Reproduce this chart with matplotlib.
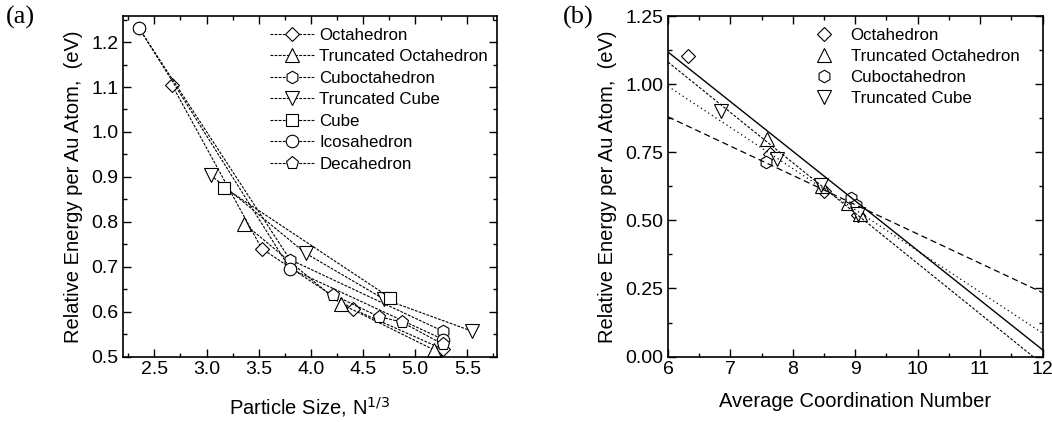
import matplotlib.pyplot as plt
from matplotlib.ticker import MultipleLocator

plt.rcParams['font.family'] = ['Liberation Sans', 'DejaVu Sans']

# panel (a): particle size N^(1/3) vs relative energy (eV)
octa_x = [2.67, 3.53, 4.40, 5.27]
octa_y = [1.104, 0.740, 0.606, 0.516]
trunc_octa_x = [3.36, 4.29, 5.18]
trunc_octa_y = [0.796, 0.617, 0.515]
cubocta_x = [2.35, 3.80, 5.27]
cubocta_y = [1.232, 0.716, 0.556]
trunc_cube_x = [3.04, 3.95, 4.70, 5.54]
trunc_cube_y = [0.904, 0.730, 0.628, 0.557]
cube_x = [3.17, 4.76]
cube_y = [0.876, 0.631]
icosa_x = [2.35, 3.80, 5.27]
icosa_y = [1.232, 0.696, 0.538]
deca_x = [4.21, 4.65, 4.87, 5.27]
deca_y = [0.638, 0.589, 0.577, 0.527]

# panel (b): average coordination number vs relative energy (eV)
b_octa_x = [6.32, 7.64, 8.50, 9.05]
b_octa_y = [1.102, 0.742, 0.607, 0.518]
b_trunc_octa_x = [7.58, 8.47, 8.88, 9.08]
b_trunc_octa_y = [0.797, 0.625, 0.562, 0.524]
b_cubocta_x = [7.57, 8.93, 9.01]
b_cubocta_y = [0.715, 0.581, 0.556]
b_trunc_cube_x = [6.85, 7.75, 8.45, 9.05]
b_trunc_cube_y = [0.900, 0.727, 0.628, 0.525]

# linear fits, value at x = 6 and x = 12
fit_x = [6, 12]
fit_solid = [1.118, 0.025]
fit_densedash = [1.081, -0.028]
fit_dotted = [0.992, 0.086]
fit_dashed = [0.880, 0.235]


def style_axes(ax):
    ax.tick_params(which='both', direction='in', top=True, right=True,
                   labelsize=14, width=1)
    ax.tick_params(which='major', length=6)
    ax.tick_params(which='minor', length=3)
    for s in ax.spines.values():
        s.set_linewidth(1.2)


def main():
    fig = plt.figure(figsize=(10.52, 4.22), dpi=100)
    ax1 = fig.add_axes([0.117, 0.155, 0.355, 0.807])
    ax2 = fig.add_axes([0.635, 0.155, 0.356, 0.807])

    mk = dict(markerfacecolor='white', markeredgecolor='black',
              markeredgewidth=0.8, color='black', lw=0.8,
              dashes=(2.5, 1.2))
    series = [
        (octa_x, octa_y, 'D', 7, 'Octahedron'),
        (trunc_octa_x, trunc_octa_y, '^', 9.5, 'Truncated Octahedron'),
        (cubocta_x, cubocta_y, 'h', 9, 'Cuboctahedron'),
        (trunc_cube_x, trunc_cube_y, 'v', 9.5, 'Truncated Cube'),
        (cube_x, cube_y, 's', 8, 'Cube'),
        (icosa_x, icosa_y, 'o', 9, 'Icosahedron'),
        (deca_x, deca_y, 'p', 9.5, 'Decahedron'),
    ]
    for x, y, m, ms, lab in series:
        ax1.plot(x, y, marker=m, markersize=ms, label=lab, **mk)

    ax1.set_xlim(2.2, 5.78)
    ax1.set_ylim(0.5, 1.258)
    ax1.xaxis.set_major_locator(MultipleLocator(0.5))
    ax1.xaxis.set_minor_locator(MultipleLocator(0.25))
    ax1.yaxis.set_major_locator(MultipleLocator(0.1))
    ax1.yaxis.set_minor_locator(MultipleLocator(0.05))
    ax1.xaxis.set_major_formatter(plt.FormatStrFormatter('%.1f'))
    ax1.yaxis.set_major_formatter(plt.FormatStrFormatter('%.1f'))
    style_axes(ax1)
    ax1.set_xlabel('Particle Size, N$^{1/3}$', fontsize=14.5, labelpad=12)
    ax1.set_ylabel('Relative Energy per Au Atom,  (eV)', fontsize=14.5,
                   labelpad=6)
    ax1.legend(loc='upper right', bbox_to_anchor=(1.005, 0.995), frameon=False,
               fontsize=12.2, handlelength=2.6, handletextpad=0.3,
               labelspacing=0.38, borderaxespad=0.2)

    mk2 = dict(linestyle='none', markerfacecolor='white',
               markeredgecolor='black', markeredgewidth=0.8)
    ax2.plot(b_octa_x, b_octa_y, marker='D', markersize=7.5, label='Octahedron', **mk2)
    ax2.plot(b_trunc_octa_x, b_trunc_octa_y, marker='^', markersize=10,
             label='Truncated Octahedron', **mk2)
    ax2.plot(b_cubocta_x, b_cubocta_y, marker='h', markersize=9,
             label='Cuboctahedron', **mk2)
    ax2.plot(b_trunc_cube_x, b_trunc_cube_y, marker='v', markersize=10,
             label='Truncated Cube', **mk2)

    ax2.plot(fit_x, fit_solid, color='black', lw=1)
    ax2.plot(fit_x, fit_densedash, color='black', lw=0.8, dashes=(2.5, 1.5))
    ax2.plot(fit_x, fit_dotted, color='black', lw=0.9, dashes=(1, 2.5))
    ax2.plot(fit_x, fit_dashed, color='black', lw=0.9, dashes=(5, 3))

    ax2.set_xlim(6, 12)
    ax2.set_ylim(0, 1.25)
    ax2.xaxis.set_major_locator(MultipleLocator(1))
    ax2.xaxis.set_minor_locator(MultipleLocator(0.5))
    ax2.yaxis.set_major_locator(MultipleLocator(0.25))
    ax2.yaxis.set_minor_locator(MultipleLocator(0.125))
    ax2.yaxis.set_major_formatter(plt.FormatStrFormatter('%.2f'))
    style_axes(ax2)
    ax2.set_xlabel('Average Coordination Number', fontsize=14.5, labelpad=10)
    ax2.set_ylabel('Relative Energy per Au Atom,  (eV)', fontsize=14.5,
                   labelpad=6)
    ax2.legend(loc='upper right', bbox_to_anchor=(0.965, 0.995), frameon=False,
               fontsize=12.2, handlelength=1.5, handletextpad=0.8,
               labelspacing=0.36, borderaxespad=0.2)

    fig.text(0.006, 0.945, '(a)', family=['Liberation Serif'], fontsize=19)
    fig.text(0.535, 0.945, '(b)', family=['Liberation Serif'], fontsize=19)

    fig.savefig('out.png', dpi=100)


if __name__ == "__main__":
    main()
